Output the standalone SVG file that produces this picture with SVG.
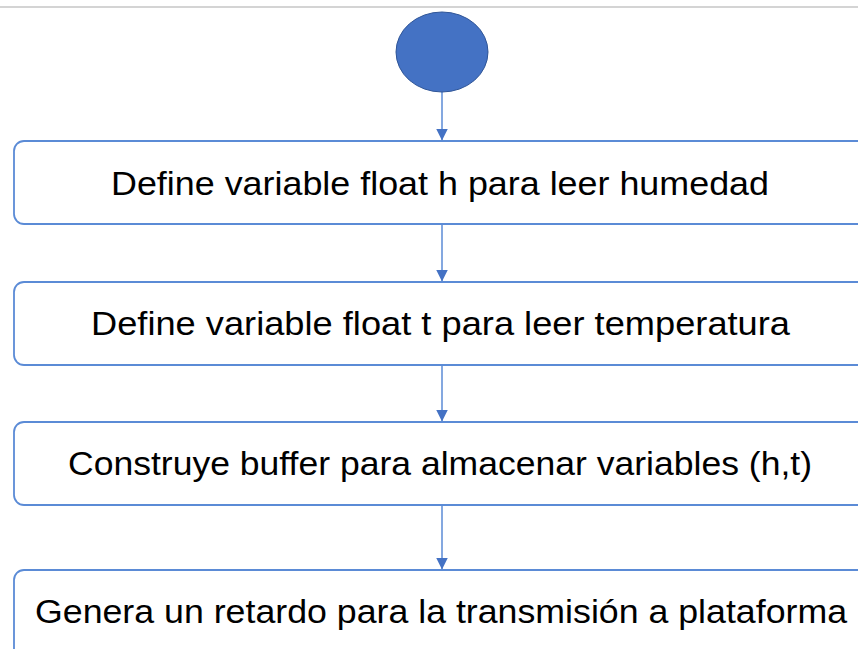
<svg xmlns="http://www.w3.org/2000/svg" width="858" height="649" viewBox="0 0 858 649">
<defs>
<style>
.box{fill:#ffffff;stroke:#5b8bd6;stroke-width:1.8}
.lbl{font-family:"Liberation Sans",Arial,sans-serif;font-size:34px;fill:#000000}
.con{stroke:#5b8bd6;stroke-width:1.5;fill:none}
</style>
<marker id="ah" viewBox="0 0 12 12" refX="12" refY="6" markerWidth="12" markerHeight="12" markerUnits="userSpaceOnUse" orient="auto">
<path d="M0,0 L12,6 L0,12 Z" fill="#4472c4"/>
</marker>
</defs>
<rect width="858" height="649" fill="#ffffff"/>
<line x1="0" y1="7" x2="858" y2="7" stroke="#d4d4d4" stroke-width="2"/>
<g id="connectors">
<line class="con" x1="442" y1="92" x2="442" y2="140.5" marker-end="url(#ah)"/>
<line class="con" x1="442" y1="224" x2="442" y2="281.5" marker-end="url(#ah)"/>
<line class="con" x1="442" y1="365" x2="442" y2="421.5" marker-end="url(#ah)"/>
<line class="con" x1="442" y1="505" x2="442" y2="569.5" marker-end="url(#ah)"/>
</g>
<g id="start">
<ellipse cx="442" cy="52" rx="46" ry="40" fill="#4472c4" stroke="#2f5597" stroke-width="1"/>
</g>
<g id="n1">
<rect class="box" x="14" y="141" width="870" height="83" rx="10"/>
<text class="lbl" x="111" y="195" textLength="658" lengthAdjust="spacingAndGlyphs">Define variable float h para leer humedad</text>
</g>
<g id="n2">
<rect class="box" x="14" y="282" width="870" height="83" rx="10"/>
<text class="lbl" x="91" y="335" textLength="699" lengthAdjust="spacingAndGlyphs">Define variable float t para leer temperatura</text>
</g>
<g id="n3">
<rect class="box" x="14" y="422" width="870" height="83" rx="10"/>
<text class="lbl" x="68" y="475" textLength="744" lengthAdjust="spacingAndGlyphs">Construye buffer para almacenar variables (h,t)</text>
</g>
<g id="n4">
<rect class="box" x="14" y="570" width="870" height="100" rx="10"/>
<text class="lbl" x="35" y="623" textLength="812" lengthAdjust="spacingAndGlyphs">Genera un retardo para la transmisión a plataforma</text>
</g>
</svg>
